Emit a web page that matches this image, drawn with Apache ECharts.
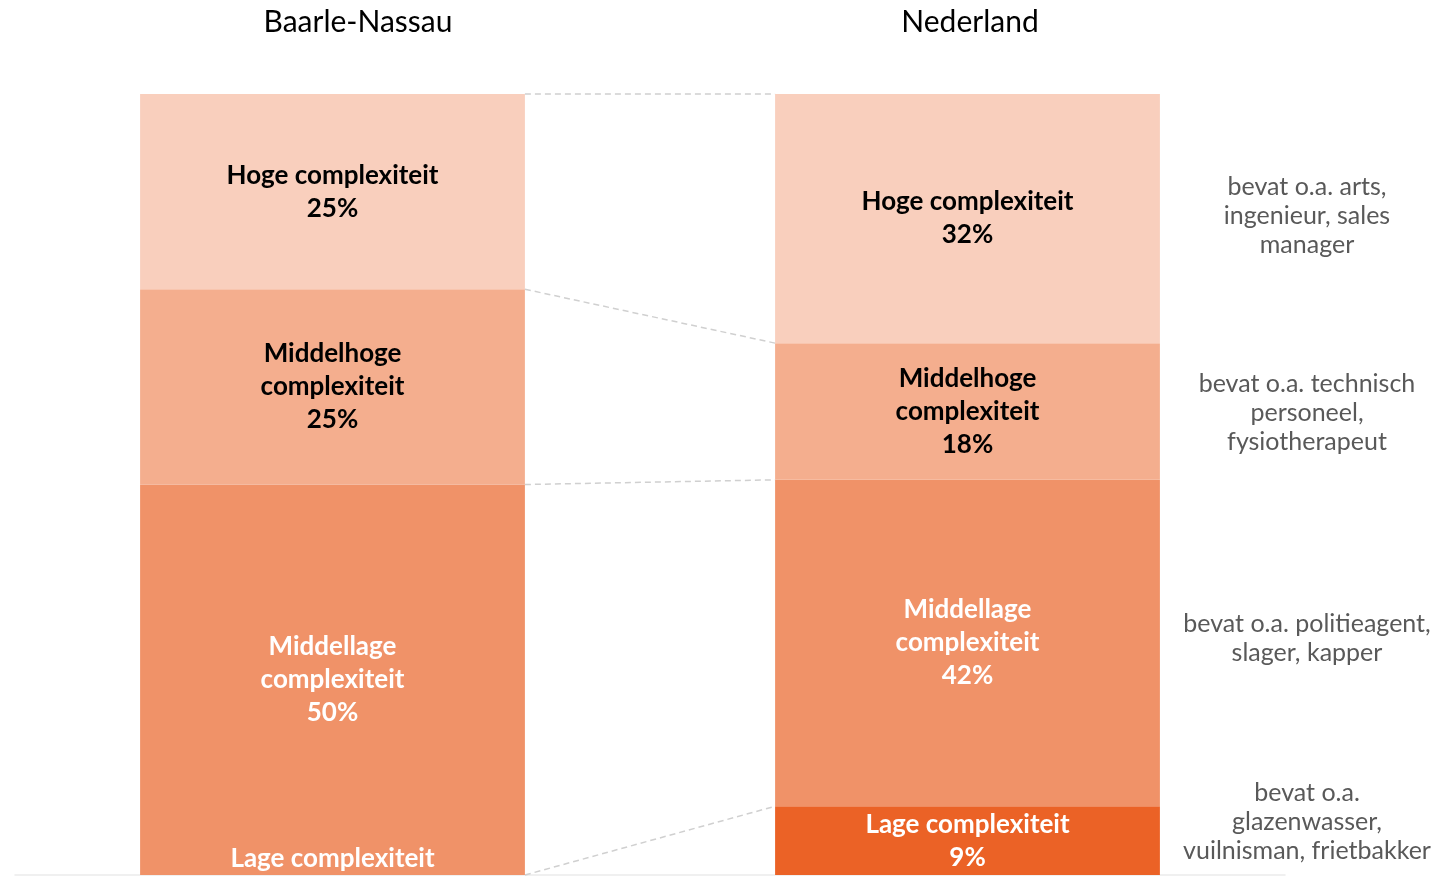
<!DOCTYPE html>
<html>
<head>
<meta charset="utf-8">
<script src="https://cdn.jsdelivr.net/npm/echarts@6/dist/echarts.min.js"></script>
<style>
  html, body { margin: 0; padding: 0; background: #fff; }
  #chart { width: 1455px; height: 876px; }
</style>
</head>
<body>
<div id="chart"></div>
<script>
const regions = ["Baarle-Nassau", "Nederland"];

// stacked from bottom to top
const levelNames = ["Lage complexiteit", "Middellage complexiteit", "Middelhoge complexiteit", "Hoge complexiteit"];
const levelLabels = ["Lage complexiteit", "Middellage\ncomplexiteit", "Middelhoge\ncomplexiteit", "Hoge complexiteit"];
const levelColors = ["#EB6226", "#F09268", "#F4AE8E", "#F9CFBD"];
const levelTextColors = ["#ffffff", "#ffffff", "#000000", "#000000"];

const lageShare = [0, 8.8];
const middellageShare = [50, 41.8];
const middelhogeShare = [25, 17.5];
const hogeShare = [25, 31.9];

const levelShares = [lageShare, middellageShare, middelhogeShare, hogeShare];

// top to bottom, next to the Nederland bar
const examples = [
  "bevat o.a. arts,\ningenieur, sales\nmanager",
  "bevat o.a. technisch\npersoneel,\nfysiotherapeut",
  "bevat o.a. politieagent,\nslager, kapper",
  "bevat o.a.\nglazenwasser,\nvuilnisman, frietbakker"
];

const BAR_FRACTION = 0.606;
const FONT = "Lato, 'Open Sans', sans-serif";

const chart = echarts.init(document.getElementById("chart"));

// top edge of each level for both bars
const boundaries = [];
for (let i = 1; i <= levelShares.length; i++) {
  boundaries.push(regions.map((_, r) =>
    levelShares.slice(0, i).reduce((s, arr) => s + arr[r], 0)));
}

const barSeries = levelNames.map((name, i) => ({
  name: name,
  type: "bar",
  stack: "total",
  barWidth: (BAR_FRACTION * 100) + "%",
  data: levelShares[i],
  itemStyle: { color: levelColors[i] },
  label: {
    show: true,
    position: "inside",
    color: levelTextColors[i],
    fontFamily: FONT,
    fontWeight: "bold",
    fontSize: 26,
    lineHeight: 33,
    formatter: (p) => levelLabels[i] + "\n" + Math.round(p.value) + "%"
  },
  emphasis: { disabled: true },
  z: 2
}));

const connectorSeries = {
  type: "custom",
  data: boundaries.map((b) => [0, b[0], b[1]]),
  encode: { x: 0, y: 1 },
  silent: true,
  z: 1,
  renderItem: (params, api) => {
    const p0 = api.coord([0, api.value(1)]);
    const p1 = api.coord([1, api.value(2)]);
    const half = api.size([1, 0])[0] * BAR_FRACTION / 2;
    return {
      type: "line",
      shape: { x1: p0[0] + half, y1: p0[1], x2: p1[0] - half, y2: p1[1] },
      style: { stroke: "#d0d0d0", lineWidth: 1.5, lineDash: [6, 4] }
    };
  }
};

const exampleY = [216, 413, 638, 822];

chart.setOption({
  animation: false,
  grid: { left: 15, right: 170, top: 94, bottom: 1 },
  xAxis: {
    type: "category",
    data: regions,
    axisLine: { lineStyle: { color: "#ececec", width: 1.5 } },
    axisTick: { show: false },
    axisLabel: { show: false }
  },
  yAxis: {
    type: "value",
    min: 0,
    max: 100,
    show: false
  },
  graphic: [
    {
      type: "text", x: 358, y: 22,
      style: { text: regions[0], font: "30px " + FONT, fill: "#000", textAlign: "center", textVerticalAlign: "middle" }
    },
    {
      type: "text", x: 970, y: 22,
      style: { text: regions[1], font: "30px " + FONT, fill: "#000", textAlign: "center", textVerticalAlign: "middle" }
    }
  ].concat(examples.map((t, i) => ({
    type: "text", x: 1307, y: exampleY[i],
    style: {
      text: t, font: "25px " + FONT, lineHeight: 29, fill: "#595959",
      textAlign: "center", textVerticalAlign: "middle"
    }
  }))),
  series: barSeries.concat([connectorSeries])
});
</script>
</body>
</html>
